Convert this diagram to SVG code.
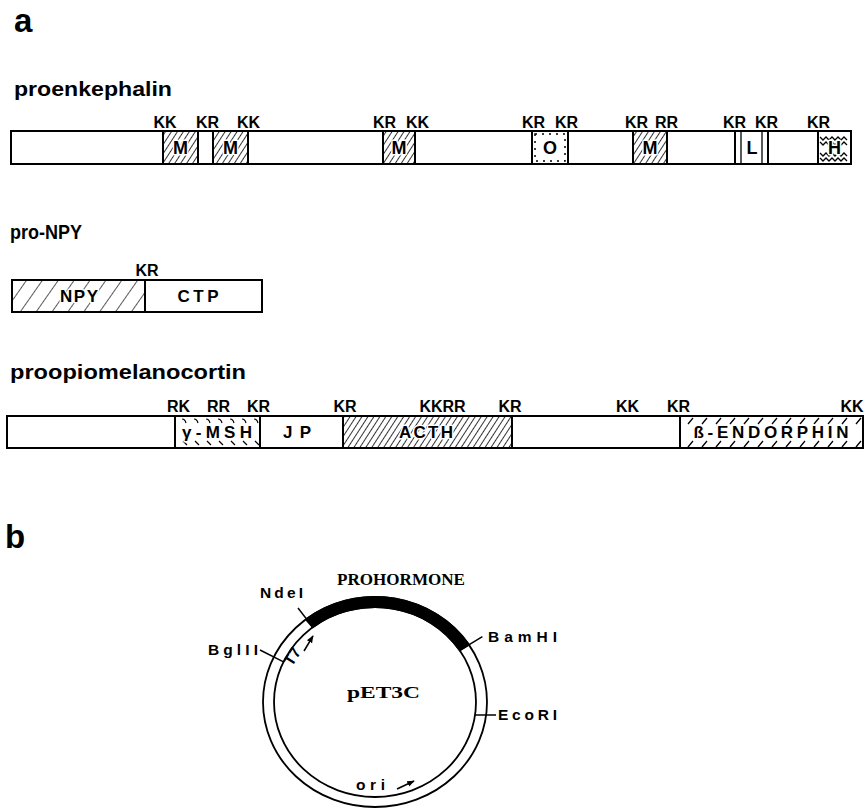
<svg xmlns="http://www.w3.org/2000/svg" width="865" height="808" viewBox="0 0 865 808">
<style>
text{font-family:"Liberation Sans",Arial,sans-serif;font-weight:bold;fill:#000}
.panel{font-size:33px}
.title{font-size:21px}
.site{font-size:16px;text-anchor:middle}
.bar{fill:#fff;stroke:#000;stroke-width:2}
.seg{stroke:#000;stroke-width:2}
.inbox{font-size:18px;text-anchor:middle;paint-order:stroke;stroke:#fff;stroke-width:3px;stroke-linejoin:round}
.big{font-size:17px;text-anchor:middle;paint-order:stroke;stroke:#fff;stroke-width:3px;stroke-linejoin:round}
.ring{fill:none;stroke:#000;stroke-width:1.8}
.tick{stroke:#000;stroke-width:1.5;fill:none}
.plab{font-size:15.5px}
.serif{font-family:"Liberation Serif","Times New Roman",serif;font-weight:bold}
.thin{stroke:#000;stroke-width:1.3;fill:none}
</style>
<defs>
<pattern id="hd" width="5" height="5" patternUnits="userSpaceOnUse" patternTransform="rotate(33)"><line x1="0" y1="0" x2="0" y2="5" stroke="#000" stroke-width="1.6"/></pattern>
<pattern id="hs" width="13" height="13" patternUnits="userSpaceOnUse" patternTransform="rotate(35)"><line x1="0" y1="0" x2="0" y2="13" stroke="#000" stroke-width="1.3"/></pattern>
<pattern id="be" x="0" y="416" width="14" height="32" patternUnits="userSpaceOnUse"><path d="M2,8 L7,2 M2,31 L7,25" stroke="#000" stroke-width="1.3" fill="none"/></pattern>
<pattern id="gm" x="0" y="416" width="12" height="32" patternUnits="userSpaceOnUse"><path d="M2,3 q3,0 4,4 M3,25 l4,4" stroke="#000" stroke-width="1.2" fill="none"/></pattern>
<marker id="ah" viewBox="0 0 10 10" refX="9" refY="5" markerWidth="5" markerHeight="5" orient="auto"><path d="M0,1 L10,5 L0,9 z" fill="#000"/></marker>
</defs>

<text class="panel" x="14" y="32">a</text>

<g id="proenkephalin">
<text class="title" x="14" y="96" textLength="158" lengthAdjust="spacingAndGlyphs">proenkephalin</text>
<rect class="bar" x="11" y="131" width="840" height="33"/>
<rect class="seg" x="163" y="131" width="35" height="33" fill="url(#hd)"/>
<rect class="seg" x="213" y="131" width="35" height="33" fill="url(#hd)"/>
<rect class="seg" x="383" y="131" width="32" height="33" fill="url(#hd)"/>
<rect class="seg" x="532" y="131" width="36" height="33" fill="#fff"/>
<rect x="535" y="134" width="30" height="27" fill="none" stroke="#000" stroke-width="1.5" stroke-dasharray="2 5"/>
<rect class="seg" x="633" y="131" width="34" height="33" fill="url(#hd)"/>
<rect class="seg" x="735" y="131" width="33" height="33" fill="#fff"/>
<path class="thin" d="M741,131 V164 M762,131 V164" stroke-width="1.8"/>
<rect class="seg" x="818" y="131" width="33" height="33" fill="#fff"/>
<path class="thin" d="M820,137 l3,3 l3,-3 l3,3 l3,-3 l3,3 l3,-3 l3,3 l3,-3 l3,3 M820,142 l3,3 l3,-3 l3,3 l3,-3 l3,3 l3,-3 l3,3 l3,-3 l3,3 M820,153 l3,3 l3,-3 l3,3 l3,-3 l3,3 l3,-3 l3,3 l3,-3 l3,3 M820,158 l3,3 l3,-3 l3,3 l3,-3 l3,3 l3,-3 l3,3 l3,-3 l3,3"/>
<text class="inbox" x="180.5" y="154">M</text>
<text class="inbox" x="230.5" y="154">M</text>
<text class="inbox" x="399" y="154">M</text>
<text class="inbox" x="550" y="154">O</text>
<text class="inbox" x="650" y="154">M</text>
<text class="inbox" x="752" y="154">L</text>
<text class="inbox" x="834.5" y="154">H</text>
<text class="site" x="165" y="128">KK</text>
<text class="site" x="207.5" y="128">KR</text>
<text class="site" x="248.5" y="128">KK</text>
<text class="site" x="384.5" y="128">KR</text>
<text class="site" x="417.5" y="128">KK</text>
<text class="site" x="533.5" y="128">KR</text>
<text class="site" x="566.5" y="128">KR</text>
<text class="site" x="636.5" y="128">KR</text>
<text class="site" x="666.5" y="128">RR</text>
<text class="site" x="734.5" y="128">KR</text>
<text class="site" x="766.5" y="128">KR</text>
<text class="site" x="818.5" y="128">KR</text>
</g>

<g id="pro-NPY">
<text class="title" x="10" y="239" font-size="20" textLength="72" lengthAdjust="spacingAndGlyphs">pro-NPY</text>
<rect class="seg" x="12" y="280" width="133" height="32" fill="url(#hs)"/>
<rect class="seg" x="145" y="280" width="117" height="32" fill="#fff"/>
<text class="big" x="79" y="302" textLength="38">NPY</text>
<text class="big" x="198" y="302" textLength="41">CTP</text>
<text class="site" x="147" y="276">KR</text>
</g>

<g id="proopiomelanocortin">
<text class="title" x="10" y="379" textLength="236" lengthAdjust="spacingAndGlyphs">proopiomelanocortin</text>
<rect class="bar" x="7" y="416" width="856" height="32"/>
<rect class="seg" x="175" y="416" width="85" height="32" fill="url(#gm)"/>
<rect class="seg" x="343" y="416" width="169" height="32" fill="url(#hd)"/>
<rect class="seg" x="680" y="416" width="183" height="32" fill="url(#be)"/>
<text class="big" x="217" y="438" textLength="70">γ-MSH</text>
<text class="big" x="297" y="438" textLength="28">JP</text>
<text class="big" x="426" y="438" textLength="54">ACTH</text>
<text class="big" x="771" y="438" textLength="155">ß-ENDORPHIN</text>
<text class="site" x="178.5" y="412">RK</text>
<text class="site" x="218.5" y="412">RR</text>
<text class="site" x="258.5" y="412">KR</text>
<text class="site" x="345" y="412">KR</text>
<text class="site" x="442.5" y="412">KKRR</text>
<text class="site" x="510" y="412">KR</text>
<text class="site" x="627.5" y="412">KK</text>
<text class="site" x="678.5" y="412">KR</text>
<text class="site" x="852" y="412">KK</text>
</g>

<text class="panel" x="5" y="548">b</text>

<g id="pET3C">
<ellipse class="ring" cx="375" cy="702" rx="112" ry="105"/>
<ellipse class="ring" cx="375" cy="702" rx="101" ry="95"/>
<path d="M306,619.3 A112,105 0 0 1 468.9,644.8 L459.7,650.3 A101,95 0 0 0 312.8,627.1 Z" fill="#000" stroke="#000" stroke-width="2"/>
<text class="serif" x="337" y="585" font-size="16" textLength="128" lengthAdjust="spacingAndGlyphs">PROHORMONE</text>
<text class="serif" x="347" y="698" font-size="16" textLength="73" lengthAdjust="spacingAndGlyphs">pET3C</text>
</g>

<g id="connectors">
<line class="tick" x1="298" y1="608" x2="312.8" y2="627.1"/>
<line class="tick" x1="459.7" y1="650.3" x2="482.4" y2="636.6"/>
<line class="tick" x1="260" y1="650" x2="283.5" y2="661.9"/>
<line class="tick" x1="475" y1="715" x2="496" y2="715"/>
<line class="tick" x1="304" y1="651" x2="313" y2="636" marker-end="url(#ah)"/>
<line class="tick" x1="397" y1="789" x2="414" y2="781" marker-end="url(#ah)"/>
</g>

<g id="labels">
<text class="plab" x="260" y="598" textLength="43">NdeI</text>
<text class="plab" x="208" y="655" textLength="50">BglII</text>
<text class="plab" x="488" y="642" textLength="69">BamHI</text>
<text class="plab" x="498" y="720" textLength="59">EcoRI</text>
<text class="plab" x="356" y="790" textLength="29">ori</text>
<text class="plab" x="0" y="0" font-size="13" transform="translate(292,667) rotate(-58)">T7</text>
</g>
</svg>
